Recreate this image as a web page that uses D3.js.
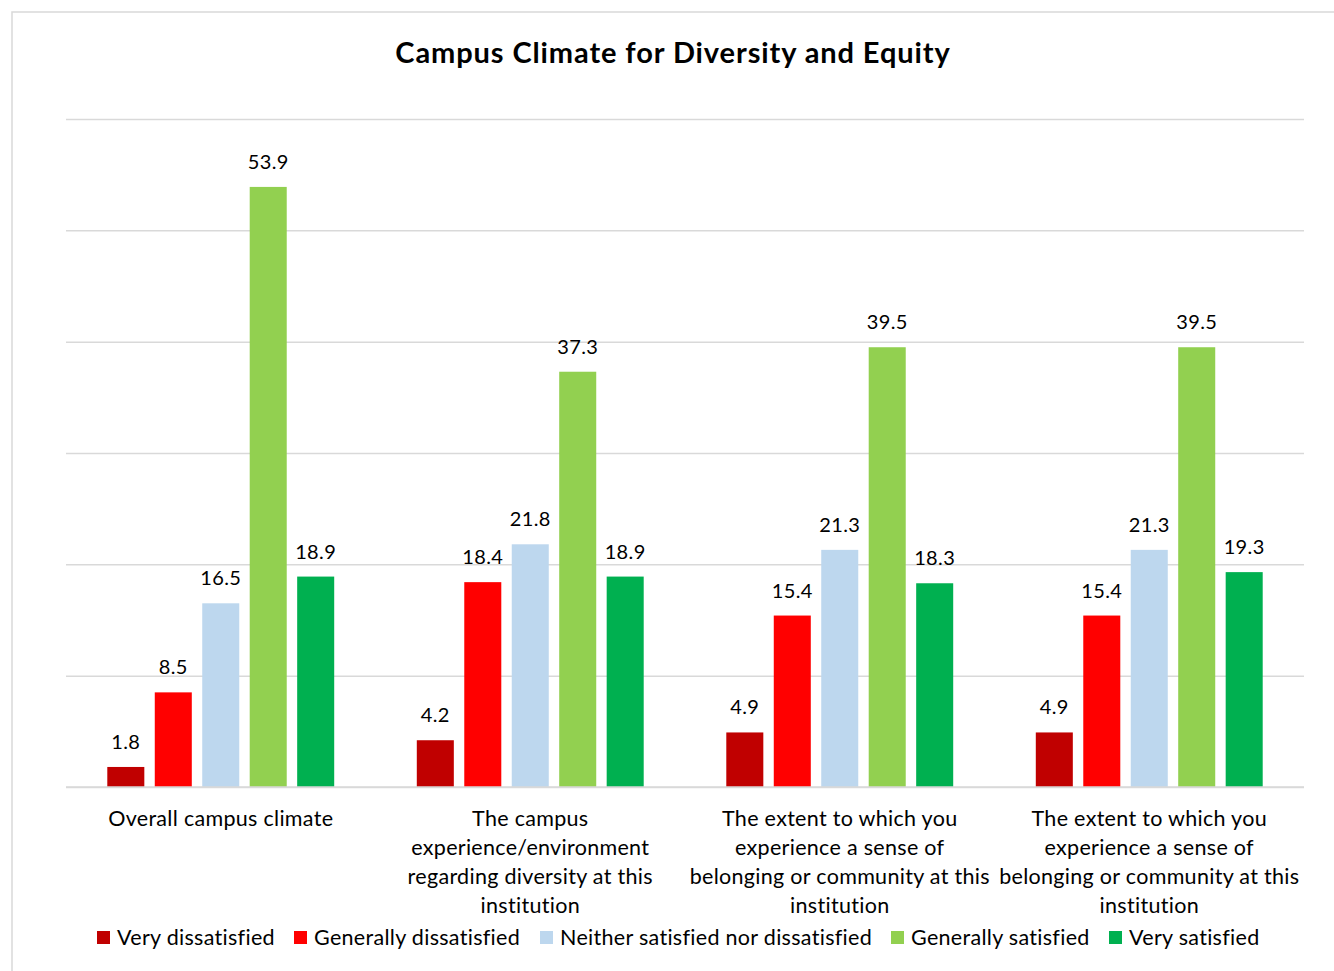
<!DOCTYPE html>
<html>
<head>
<meta charset="utf-8">
<script src="https://cdn.jsdelivr.net/npm/d3@7"></script>
<style>
  body { margin: 0; background: #fff; }
  svg { display: block; font-family: Lato, "Open Sans", sans-serif; }
</style>
</head>
<body>
<svg id="chart" width="1334" height="971"></svg>
<script>
// chart data
const categories = [
    'Overall campus climate',
    'The campus\nexperience/environment\nregarding diversity at this\ninstitution',
    'The extent to which you\nexperience a sense of\nbelonging or community at this\ninstitution',
    'The extent to which you\nexperience a sense of\nbelonging or community at this\ninstitution'
];
const seriesNames = ['Very dissatisfied', 'Generally dissatisfied', 'Neither satisfied nor dissatisfied', 'Generally satisfied', 'Very satisfied'];
const seriesColors = ['#c00000', '#ff0000', '#bdd7ee', '#92d050', '#00b050'];
const veryDissatisfied = [1.8, 4.2, 4.9, 4.9];
const generallyDissatisfied = [8.5, 18.4, 15.4, 15.4];
const neither = [16.5, 21.8, 21.3, 21.3];
const generallySatisfied = [53.9, 37.3, 39.5, 39.5];
const verySatisfied = [18.9, 18.9, 18.3, 19.3];
const yTicks = [0, 10, 20, 30, 40, 50, 60];

const series = [veryDissatisfied, generallyDissatisfied, neither, generallySatisfied, verySatisfied];
const margin = { top: 119, right: 30, bottom: 184, left: 66 };
const width = 1334, height = 971;

const svg = d3.select('#chart');

// outer chart border (the frame runs off the right/bottom of the picture)
svg.append('rect')
    .attr('x', 12).attr('y', 12)
    .attr('width', 1340).attr('height', 980)
    .attr('fill', 'none').attr('stroke', '#d9d9d9').attr('stroke-width', 1.5);

svg.append('text')
    .attr('x', 673).attr('y', 63)
    .attr('text-anchor', 'middle')
    .style('font-size', '29px').style('font-weight', 'bold')
    .style('letter-spacing', '0.9px')
    .attr('fill', '#000')
    .text('Campus Climate for Diversity and Equity');

const x0 = d3.scaleBand()
    .domain(d3.range(categories.length))
    .range([margin.left, width - margin.right]);

const x1 = d3.scaleBand()
    .domain(d3.range(seriesNames.length))
    .range([0, x0.bandwidth()])
    .paddingInner(0.22)
    .paddingOuter(0.87);

const y = d3.scaleLinear()
    .domain([0, 60])
    .range([height - margin.bottom, margin.top]);

// gridlines
const grid = svg.append('g').attr('class', 'grid')
    .attr('transform', `translate(${margin.left},0)`)
    .call(d3.axisLeft(y).tickValues(yTicks).tickSize(-(width - margin.left - margin.right)).tickFormat(''));
grid.select('.domain').remove();
grid.selectAll('.tick line').attr('stroke', '#d9d9d9').attr('stroke-width', 1.5);

// bars
const groups = svg.append('g').selectAll('g')
    .data(categories)
    .join('g')
    .attr('transform', (d, i) => `translate(${x0(i)},0)`);

groups.each(function(c, ci) {
    const g = d3.select(this);
    series.forEach((vals, si) => {
        const v = vals[ci];
        g.append('rect')
            .attr('x', x1(si))
            .attr('y', y(v))
            .attr('width', x1.bandwidth())
            .attr('height', y(0) - y(v))
            .attr('fill', seriesColors[si]);
        g.append('text')
            .attr('x', x1(si) + x1.bandwidth() / 2)
            .attr('y', y(v) - 18)
            .attr('text-anchor', 'middle')
            .style('font-size', '20px')
            .style('letter-spacing', '0.4px')
            .attr('fill', '#000')
            .text(v.toFixed(1));
    });
});

// baseline
svg.append('line')
    .attr('x1', margin.left).attr('x2', width - margin.right)
    .attr('y1', y(0)).attr('y2', y(0))
    .attr('stroke', '#d9d9d9').attr('stroke-width', 1.5);

// category labels
categories.forEach((c, i) => {
    const t = svg.append('text')
        .attr('text-anchor', 'middle')
        .style('font-size', '21.5px')
        .style('letter-spacing', '0.3px')
        .attr('fill', '#000');
    c.split('\n').forEach((line, li) => {
        t.append('tspan')
            .attr('x', x0(i) + x0.bandwidth() / 2)
            .attr('y', 826 + li * 29)
            .text(line);
    });
});

// legend
const legendX = [97, 294, 540, 891, 1109];
const legend = svg.append('g').selectAll('g')
    .data(seriesNames)
    .join('g')
    .attr('transform', (d, i) => `translate(${legendX[i]},931)`);
legend.append('rect')
    .attr('width', 13).attr('height', 13)
    .attr('fill', (d, i) => seriesColors[i]);
legend.append('text')
    .attr('x', 20).attr('y', 14)
    .style('font-size', '21.5px')
    .style('letter-spacing', '0.3px')
    .attr('fill', '#000')
    .text(d => d);
</script>
</body>
</html>
